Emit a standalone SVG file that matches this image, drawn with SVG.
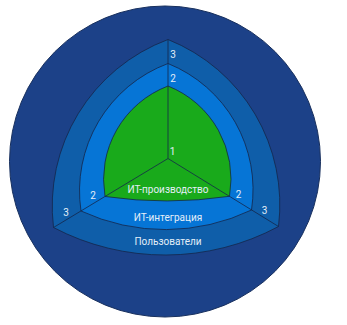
<svg xmlns="http://www.w3.org/2000/svg" width="347" height="325" viewBox="0 0 347 325">
  <style>
    .edge { stroke: #14264a; stroke-width: 0.8; stroke-linejoin: round; }
    .lbl { font-family: Roboto, "Liberation Sans", sans-serif; font-size: 10px; fill: #e4eef8; text-anchor: middle; }
    .num { font-family: Roboto, "Liberation Sans", sans-serif; font-size: 10px; fill: #e4eef8; text-anchor: middle; }
  </style>
  <rect x="0" y="0" width="347" height="325" fill="#ffffff"/>
  <g id="background">
    <circle cx="165" cy="161.5" r="155.5" fill="#1c4188" stroke="#18305e" stroke-width="1"/>
  </g>
  <g id="layer3">
    <path class="edge" fill="#0f5ea9" d="M168,39.5 A178,178 0 0 0 53.5,227.5 A240,240 0 0 0 278.5,226.5 A178,178 0 0 0 168,39.5 Z"/>
    <text class="lbl" x="168" y="245">Пользователи</text>
    <text class="num" x="173" y="57.5">3</text>
    <text class="num" x="66" y="216">3</text>
    <text class="num" x="264.5" y="213.5">3</text>
  </g>
  <g id="layer2">
    <path class="edge" fill="#0675d6" d="M168,63.5 A136,136 0 0 0 81,211 A200,200 0 0 0 251.5,210 A136,136 0 0 0 168,63.5 Z"/>
    <text class="lbl" x="168" y="220.5">ИТ-интеграция</text>
    <text class="num" x="173" y="82">2</text>
    <text class="num" x="93" y="198.5">2</text>
    <text class="num" x="238.5" y="197.5">2</text>
  </g>
  <g id="layer1">
    <path class="edge" fill="#19aa1b" d="M168,86 A100,100 0 0 0 105,196.5 A430,430 0 0 0 229.5,196.3 A100,100 0 0 0 168,86 Z"/>
  </g>
  <g id="connectors" fill="none" class="edge">
    <line x1="168" y1="158.5" x2="168" y2="39.5"/>
    <line x1="168" y1="158.5" x2="53.5" y2="227.5"/>
    <line x1="168" y1="158.5" x2="278.5" y2="226.5"/>
  </g>
  <g id="labels1">
    <text class="lbl" x="168" y="193" fill="#e4f2e4">ИТ-производство</text>
    <text class="num" x="172.5" y="154.5">1</text>
  </g>
</svg>
